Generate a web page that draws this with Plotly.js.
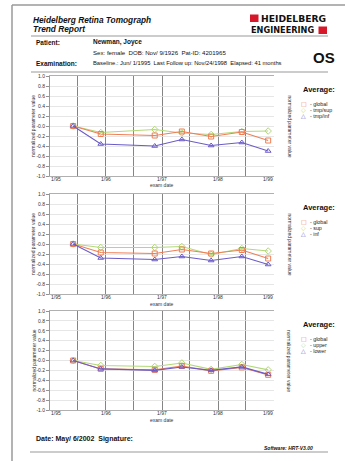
<!DOCTYPE html>
<html><head><meta charset="utf-8">
<script src="https://cdn.plot.ly/plotly-3.0.1.min.js"></script>
<style>html,body{margin:0;padding:0;background:#fff}#chart{width:345px;height:461px}</style>
</head><body><div id="chart"></div>
<script>
// ---- data ----
const examDates = ['1995-06-01','1995-11-28','1996-11-14','1997-05-10','1997-11-17','1998-06-05','1998-11-24'];
const xTickDates = ['1995-01-01','1996-01-01','1997-01-01','1998-01-01','1999-01-01'];
const xTickLabels = ['1/95','1/96','1/97','1/98','1/99'];
const gridDates = ['1995-07-01','1996-01-01','1996-07-01','1997-01-01','1997-07-01','1998-01-01','1998-07-01'];
const yTickVals = [-1,-0.8,-0.6,-0.4,-0.2,0,0.2,0.4,0.6,0.8,1];
const yTickLabels = ['-1.0','-0.8','-0.6','-0.4','-0.2','-0.0','0.2','0.4','0.6','0.8','1.0'];

const p1Names = ['- global','- tmp/sup','- tmp/inf'];
const p1Global = [0.00,-0.16,-0.19,-0.11,-0.21,-0.12,-0.29];
const p1TmpSup = [0.00,-0.13,-0.07,-0.14,-0.17,-0.11,-0.10];
const p1TmpInf = [0.00,-0.36,-0.40,-0.27,-0.39,-0.33,-0.50];

const p2Names = ['- global','- sup','- inf'];
const p2Global = [0.00,-0.17,-0.19,-0.11,-0.19,-0.12,-0.29];
const p2Sup    = [0.00,-0.07,-0.07,-0.05,-0.21,-0.09,-0.14];
const p2Inf    = [0.00,-0.28,-0.31,-0.25,-0.33,-0.25,-0.41];

const p3Names = ['- global','- upper','- lower'];
const p3Global = [0.00,-0.17,-0.19,-0.11,-0.21,-0.14,-0.29];
const p3Upper  = [0.00,-0.10,-0.12,-0.05,-0.18,-0.08,-0.19];
const p3Lower  = [0.00,-0.17,-0.20,-0.13,-0.20,-0.13,-0.28];

// ---- layout helpers ----
const W=345,H=461;
const X=p=>p/W, Y=p=>1-p/H;
const FONT='Liberation Sans, Arial, sans-serif';
const cOrange='#F07E55', cGreen='#B2D977', cBlue='#6B5BC8';
const styles=[
  {color:cOrange,symbol:'square-open',glyph:'\u25A1'},
  {color:cGreen,symbol:'diamond-open',glyph:'\u25C7'},
  {color:cBlue,symbol:'triangle-up-open',glyph:'\u25B3'}
];
const panels=[
  {top:76,bottom:176,series:[p1Global,p1TmpSup,p1TmpInf],names:p1Names},
  {top:194,bottom:294,series:[p2Global,p2Sup,p2Inf],names:p2Names},
  {top:311,bottom:410,series:[p3Global,p3Upper,p3Lower],names:p3Names}
];
const plotL=50, plotR=274;

const data=[], annotations=[], shapes=[];
const layout={
  width:W,height:H,margin:{l:0,r:0,t:0,b:0},
  paper_bgcolor:'#fff',plot_bgcolor:'#fff',showlegend:false,
  font:{family:FONT,color:'#222'}
};

panels.forEach((p,i)=>{
  const s=i===0?'':String(i+1);
  const rs=String(i+4);
  layout['xaxis'+s]={
    type:'date',range:['1995-01-01','1999-01-01'],domain:[X(plotL),X(plotR)],
    anchor:'y'+s,tickvals:gridDates,showticklabels:false,ticks:'',
    showgrid:true,gridcolor:'#858585',gridwidth:1,
    showline:true,linecolor:'#b0b0b0',linewidth:1,mirror:true,zeroline:false,fixedrange:true
  };
  const yBase={
    range:[-1,1],tickvals:yTickVals,ticktext:yTickLabels,ticks:'outside',ticklen:3,
    tickcolor:'#777',tickwidth:0.8,tickfont:{size:5,color:'#333',family:FONT},
    showline:true,linecolor:'#999',linewidth:1,zeroline:false,fixedrange:true
  };
  layout['yaxis'+s]=Object.assign({},yBase,{
    domain:[Y(p.bottom),Y(p.top)],anchor:'x'+s,showgrid:true,gridcolor:'#e0e0e0',gridwidth:0.8
  });
  layout['yaxis'+rs]=Object.assign({},yBase,{
    overlaying:'y'+s,side:'right',anchor:'x'+s,showgrid:false
  });
  [1,0,2].forEach(k=>{
    data.push({
      type:'scatter',mode:'lines+markers',x:examDates,y:p.series[k],
      xaxis:'x'+s,yaxis:'y'+s,name:p.names[k],
      line:{color:styles[k].color,width:1.1},
      marker:{symbol:styles[k].symbol,size:5,color:styles[k].color,line:{width:1,color:styles[k].color}},
      hoverinfo:'skip'
    });
  });
  xTickDates.forEach((d,j)=>{
    annotations.push({xref:'x'+s,yref:'paper',x:d,y:Y(p.bottom+2.5),yanchor:'middle',
      xanchor:j===0?'left':(j===xTickDates.length-1?'right':'center'),
      text:xTickLabels[j],showarrow:false,borderpad:0,font:{size:5,color:'#333'}});
  });
  annotations.push({xref:'paper',yref:'paper',x:X(162),y:Y(p.bottom+9.5),yanchor:'middle',xanchor:'center',
    text:'exam date',showarrow:false,borderpad:0,font:{size:5,color:'#333'}});
  const mid=(p.top+p.bottom)/2;
  annotations.push({xref:'paper',yref:'paper',x:X(33),y:Y(mid),textangle:-90,xanchor:'center',yanchor:'middle',
    text:'normalized parameter value',showarrow:false,borderpad:0,font:{size:5,color:'#333'}});
  annotations.push({xref:'paper',yref:'paper',x:X(289.5),y:Y(mid),textangle:90,xanchor:'center',yanchor:'middle',
    text:'normalized parameter value',showarrow:false,borderpad:0,font:{size:5,color:'#333'}});
  annotations.push({xref:'paper',yref:'paper',x:X(302),y:Y(p.top+13),xanchor:'left',yanchor:'middle',
    text:'<b>Average:</b>',showarrow:false,borderpad:0,font:{size:7.5,color:'#111'}});
  p.names.forEach((n,k)=>{
    const yy=p.top+27.5+k*6;
    annotations.push({xref:'paper',yref:'paper',x:X(300),y:Y(yy),xanchor:'left',yanchor:'middle',
      text:styles[k].glyph,showarrow:false,borderpad:0,font:{size:6,color:styles[k].color,family:'DejaVu Sans'}});
    annotations.push({xref:'paper',yref:'paper',x:X(308.5),y:Y(yy),xanchor:'left',yanchor:'middle',
      text:n,showarrow:false,borderpad:0,font:{size:5.3,color:'#222'}});
  });
});

const ln=(x0,y0,x1,y1,c,w)=>shapes.push({type:'line',xref:'paper',yref:'paper',x0:X(x0),y0:Y(y0),x1:X(x1),y1:Y(y1),line:{color:c,width:w}});
ln(12,5,345,5,'#9a9a9a',1.5);
ln(12,5,12,461,'#9a9a9a',1.5);
ln(31,36,328,36,'#999',1);
ln(31,72,328,72,'#999',1);
ln(30,452,328,452,'#999',1);
shapes.push({type:'rect',xref:'paper',yref:'paper',x0:X(250),x1:X(258.5),y0:Y(22),y1:Y(14.5),fillcolor:'#D7182A',line:{width:0}});
shapes.push({type:'rect',xref:'paper',yref:'paper',x0:X(318.5),x1:X(327),y0:Y(34),y1:Y(26.5),fillcolor:'#D7182A',line:{width:0}});

const txt=(x,y,t,size,opts)=>annotations.push(Object.assign({xref:'paper',yref:'paper',x:X(x),y:Y(y),xanchor:'left',yanchor:'middle',
  text:t,showarrow:false,borderpad:0,font:{size:size,color:'#111',family:FONT}},opts||{}));
txt(32,19.5,'<b><i>Heidelberg Retina Tomograph</i></b>',8.3);
txt(32,28.5,'<b><i>Trend Report</i></b>',8.3);
txt(259.5,18.3,'<b>HEIDELBERG</b>',9.2,{font:{size:9.2,color:'#111',family:'DejaVu Sans'}});
txt(249.5,30.3,'<b>ENGINEERING</b>',8.2,{font:{size:8.2,color:'#111',family:'DejaVu Sans'}});
txt(35,42,'<b>Patient:</b>',6.5);
txt(92,42,'<b>Newman, Joyce</b>',6.5);
txt(92,52.5,'Sex: female  DOB: Nov/ 9/1926  Pat-ID: 4201965',6.1);
txt(35,63.5,'<b>Examination:</b>',6.5);
txt(92,63,'Baseline.: Jun/ 1/1995  Last Follow up: Nov/24/1998  Elapsed: 41 months',5.8);
txt(336,57,'<b>OS</b>',15,{xanchor:'right'});
txt(35,438.5,'<b>Date: May/ 6/2002  Signature:</b>',7);
txt(314,448,'<b><i>Software: HRT-V3.00</i></b>',5,{xanchor:'right'});

layout.annotations=annotations;
layout.shapes=shapes;
Plotly.newPlot('chart',data,layout,{staticPlot:true,displayModeBar:false});
</script>
</body></html>
